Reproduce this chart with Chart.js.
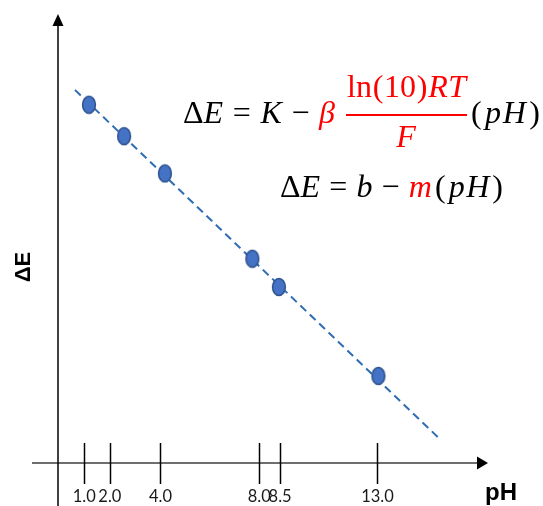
<!DOCTYPE html>
<html>
<head>
<meta charset="utf-8">
<script src="https://cdn.jsdelivr.net/npm/chart.js@4"></script>
<style>
  html, body { margin: 0; padding: 0; background: #fff; }
  #wrap { width: 543px; height: 506px; }
</style>
</head>
<body>
<div id="wrap"><canvas id="chart" width="543" height="506"></canvas></div>
<script>
// --- DATA ---
// pH of the measured points
const phValues = [1.26, 2.69, 4.35, 7.91, 8.99, 13.04];
// ΔE, arbitrary units (0 = pH axis, 100 = top of ΔE axis)
const deltaE = [79.8, 72.8, 64.5, 45.5, 39.2, 19.4];
// dashed fit line, start and end
const fitPh = [0.69, 15.51];
const fitDeltaE = [83.1, 5.5];
// tick marks on the pH axis (schematic, so not quite to scale) and their labels
const tickPh = [1.07, 2.11, 4.17, 8.19, 9.04, 13.0];
const tickLabels = ['1.0', '2.0', '4.0', '8.0', '8.5', '13.0'];

const RED = '#ff0000';
const SERIF = '"Liberation Serif", serif';

// oval marker like the original
function makeDot() {
    const c = document.createElement('canvas');
    c.width = 16; c.height = 20;
    const g = c.getContext('2d');
    g.beginPath();
    g.ellipse(8, 10, 6.4, 8.5, 0, 0, Math.PI * 2);
    g.fillStyle = '#4472c4';
    g.fill();
    g.lineWidth = 1.5;
    g.strokeStyle = '#2f528f';
    g.stroke();
    return c;
}

function setFont(ctx, s, size) {
    ctx.font = (s[1] ? 'italic ' : '') + size + 'px ' + SERIF;
}

// draw a run of math pieces between x0 and x1; numbers in the run are gap weights
function fitRun(ctx, segs, x0, x1, y, size) {
    let glyphW = 0, weights = 0;
    segs.forEach(s => {
        if (typeof s === 'number') { weights += s; return; }
        setFont(ctx, s, size);
        glyphW += ctx.measureText(s[0]).width;
    });
    const unit = weights ? Math.max((x1 - x0 - glyphW) / weights, 0) : 0;
    let x = x0;
    segs.forEach(s => {
        if (typeof s === 'number') { x += s * unit; return; }
        setFont(ctx, s, size);
        ctx.fillStyle = s[2] || '#000';
        ctx.fillText(s[0], x, y);
        x += ctx.measureText(s[0]).width;
    });
}

function runWidth(ctx, segs, size) {
    let w = 0;
    segs.forEach(s => {
        setFont(ctx, s, size);
        w += ctx.measureText(s[0]).width;
    });
    return w;
}

const axesPlugin = {
    id: 'axesPlugin',
    beforeDatasetsDraw(chart) {
        const ctx = chart.ctx;
        const xs = chart.scales.x, ys = chart.scales.y;
        const x0 = xs.getPixelForValue(0);
        const y0 = ys.getPixelForValue(0);
        const top = chart.chartArea.top;
        const right = chart.chartArea.right;
        ctx.save();

        // pH axis
        ctx.strokeStyle = '#6e6e6e';
        ctx.lineWidth = 2;
        ctx.beginPath();
        ctx.moveTo(32, y0);
        ctx.lineTo(right - 10, y0);
        ctx.stroke();
        ctx.fillStyle = '#000';
        ctx.beginPath();
        ctx.moveTo(right, y0);
        ctx.lineTo(right - 11, y0 - 6.5);
        ctx.lineTo(right - 11, y0 + 6.5);
        ctx.closePath();
        ctx.fill();

        // ΔE axis
        ctx.strokeStyle = '#000';
        ctx.lineWidth = 1.5;
        ctx.beginPath();
        ctx.moveTo(x0, chart.height);
        ctx.lineTo(x0, top + 10);
        ctx.stroke();
        ctx.beginPath();
        ctx.moveTo(x0, top);
        ctx.lineTo(x0 - 5.5, top + 12);
        ctx.lineTo(x0 + 5.5, top + 12);
        ctx.closePath();
        ctx.fill();

        // tick marks crossing the pH axis
        ctx.lineWidth = 1.5;
        tickPh.forEach(v => {
            const px = Math.round(xs.getPixelForValue(v)) + 0.5;
            ctx.beginPath();
            ctx.moveTo(px, y0 - 20);
            ctx.lineTo(px, y0 + 21);
            ctx.stroke();
        });

        // axis titles
        ctx.fillStyle = '#000';
        ctx.font = 'bold 24px "Liberation Sans", Arial, sans-serif';
        ctx.textBaseline = 'alphabetic';
        ctx.fillText('pH', right - 3, 500);

        ctx.save();
        ctx.translate(30, 267);
        ctx.rotate(-Math.PI / 2);
        ctx.font = 'bold 22px "Liberation Sans", Arial, sans-serif';
        ctx.textAlign = 'center';
        ctx.fillText('ΔE', 0, 0);
        ctx.restore();

        ctx.restore();
    },
    afterDraw(chart) {
        const ctx = chart.ctx;
        const size = 32;
        ctx.save();
        ctx.textBaseline = 'alphabetic';

        // ΔE = K − β ln(10)RT/F (pH)
        fitRun(ctx, [['Δ'], ['E', 1], 1, ['='], 1, ['K', 1], 1, ['−'], 1, ['β', 1, RED]],
            183, 335, 123, size);
        const cx = 406;
        fitRun(ctx, [['l', 0, RED], ['n', 0, RED], 1, ['(', 0, RED], 1, ['1', 0, RED], ['0', 0, RED],
            1, [')', 0, RED], 1, ['R', 1, RED], 0.5, ['T', 1, RED]], 347, 466, 97, size);
        ctx.strokeStyle = RED;
        ctx.lineWidth = 2;
        ctx.beginPath();
        ctx.moveTo(346, 115);
        ctx.lineTo(467, 115);
        ctx.stroke();
        const den = [['F', 1, RED]];
        const dw = runWidth(ctx, den, size);
        fitRun(ctx, den, cx - dw / 2, cx + dw / 2, 147, size);
        fitRun(ctx, [['('], 1, ['p', 1], 0.5, ['H', 1], 1, [')']], 471, 540, 123, size);

        // ΔE = b − m(pH)
        fitRun(ctx, [['Δ'], ['E', 1], 3, ['='], 3, ['b', 1], 3, ['−'], 3,
            ['m', 1, RED], 1, ['('], 1, ['p', 1], 0.5, ['H', 1], 1, [')']], 280, 503, 197, size);

        ctx.restore();
    }
};

const ctx = document.getElementById('chart').getContext('2d');
new Chart(ctx, {
    type: 'scatter',
    data: {
        datasets: [{
            label: 'fit',
            type: 'line',
            data: fitPh.map((x, i) => ({ x: x, y: fitDeltaE[i] })),
            borderColor: '#2e6db4',
            borderWidth: 2,
            borderDash: [8, 5],
            pointRadius: 0,
            fill: false,
            order: 2
        }, {
            label: 'ΔE',
            data: phValues.map((x, i) => ({ x: x, y: deltaE[i] })),
            pointStyle: makeDot(),
            pointRadius: 8,
            order: 1
        }]
    },
    options: {
        responsive: false,
        animation: false,
        events: [],
        layout: { padding: { left: 58, right: 55, top: 14, bottom: -24 } },
        plugins: {
            legend: { display: false },
            tooltip: { enabled: false }
        },
        scales: {
            x: {
                type: 'linear',
                min: 0,
                max: 17.5,
                afterBuildTicks: axis => {
                    axis.ticks = tickPh.map(v => ({ value: v }));
                },
                grid: { display: false, drawTicks: false },
                border: { display: false },
                ticks: {
                    autoSkip: false,
                    maxRotation: 0,
                    padding: 23.6,
                    color: '#1a1a1a',
                    font: { family: 'Lato, "Open Sans", sans-serif', size: 16.5 },
                    callback: (value, index) => tickLabels[index]
                }
            },
            y: {
                display: false,
                min: 0,
                max: 100
            }
        }
    },
    plugins: [axesPlugin]
});
</script>
</body>
</html>
